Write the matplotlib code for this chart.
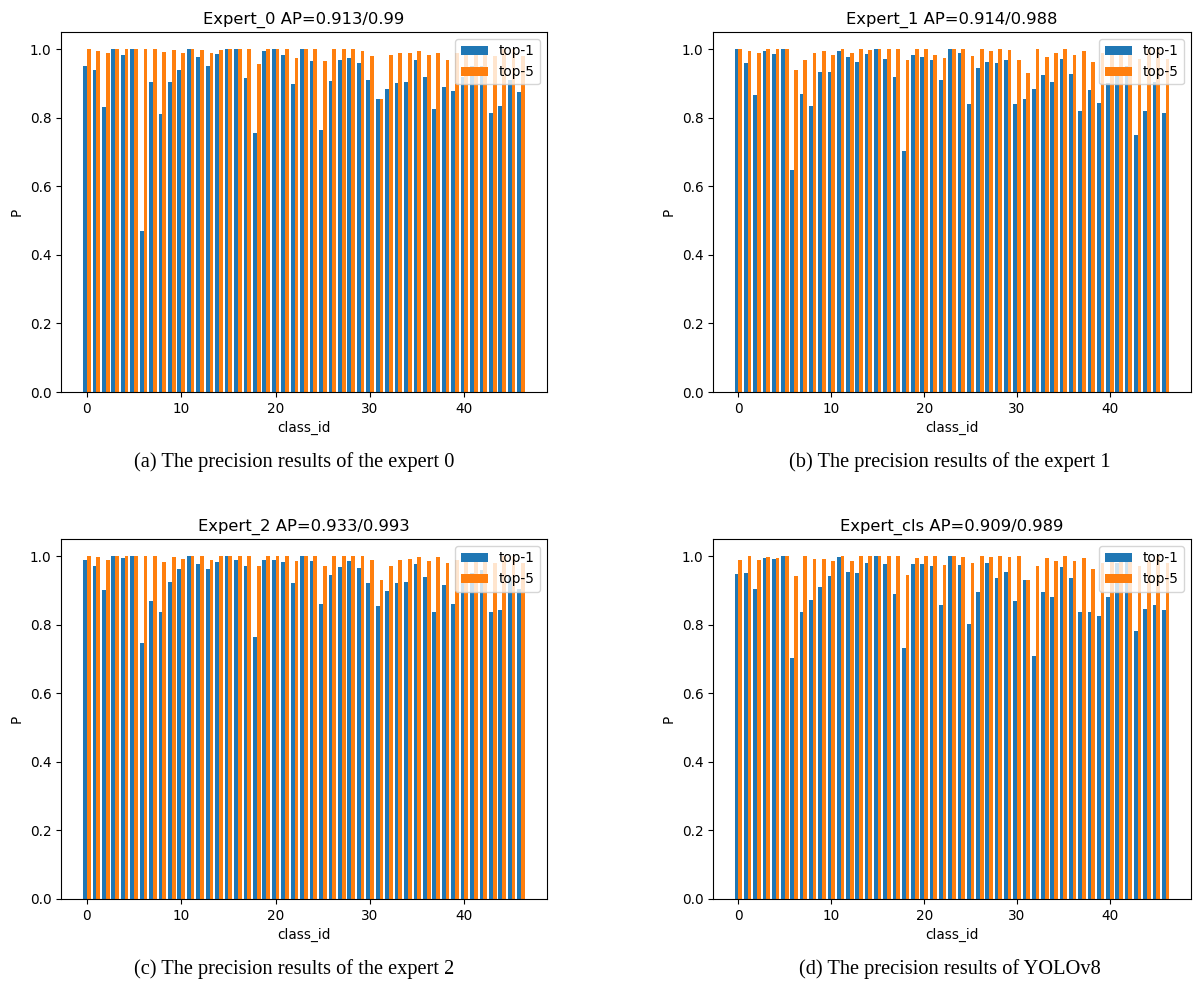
import numpy as np
import matplotlib
matplotlib.use('Agg')
import matplotlib.pyplot as plt


# class ids 0..46
class_ids = np.arange(47)

# expert 0
e0_top1 = [0.95, 0.94, 0.83, 1.0, 0.982, 1.0, 0.47, 0.903, 0.81, 0.903,
           0.94, 1.0, 0.977, 0.95, 0.986, 1.0, 1.0, 0.916, 0.755, 0.994,
           1.0, 0.982, 0.897, 1.0, 0.965, 0.765, 0.907, 0.969, 0.975, 0.959,
           0.909, 0.854, 0.883, 0.90, 0.903, 0.969, 0.92, 0.825, 0.891, 0.878,
           0.92, 0.95, 0.95, 0.815, 0.835, 0.91, 0.876]
e0_top5 = [1.0, 0.994, 0.988, 1.0, 1.0, 1.0, 1.0, 1.0, 0.992, 0.998,
           0.988, 1.0, 0.998, 0.988, 0.998, 1.0, 1.0, 1.0, 0.957, 1.0,
           1.0, 1.0, 0.975, 1.0, 1.0, 0.965, 1.0, 1.0, 1.0, 0.996,
           0.98, 0.854, 0.984, 0.988, 0.988, 0.996, 0.982, 0.99, 0.969, 0.99,
           1.0, 1.0, 0.99, 0.98, 1.0, 1.0, 0.98]

# expert 1
e1_top1 = [1.0, 0.959, 0.866, 0.996, 0.986, 1.0, 0.648, 0.87, 0.833, 0.932,
           0.934, 0.996, 0.977, 0.963, 0.986, 1.0, 0.971, 0.918, 0.702, 0.982,
           0.977, 0.969, 0.909, 1.0, 0.988, 0.839, 0.946, 0.963, 0.959, 0.969,
           0.84, 0.854, 0.883, 0.926, 0.903, 0.971, 0.928, 0.821, 0.881, 0.844,
           0.90, 0.93, 0.95, 0.75, 0.821, 0.905, 0.813]
e1_top5 = [1.0, 0.996, 0.988, 1.0, 1.0, 1.0, 0.94, 0.969, 0.99, 0.994,
           0.984, 1.0, 0.99, 1.0, 0.998, 1.0, 1.0, 1.0, 0.969, 1.0,
           1.0, 0.982, 0.975, 1.0, 1.0, 0.98, 1.0, 0.996, 1.0, 0.998,
           0.969, 0.93, 1.0, 0.977, 0.988, 1.0, 0.982, 0.994, 0.963, 0.99,
           0.99, 1.0, 0.99, 0.97, 1.0, 1.0, 0.97]

# expert 2
e2_top1 = [0.989, 0.972, 0.90, 1.0, 0.995, 1.0, 0.746, 0.869, 0.838, 0.925,
           0.962, 1.0, 0.976, 0.962, 0.983, 1.0, 0.989, 0.972, 0.764, 0.989,
           0.989, 0.983, 0.923, 1.0, 0.985, 0.859, 0.946, 0.968, 0.985, 0.966,
           0.921, 0.855, 0.898, 0.921, 0.925, 0.978, 0.939, 0.836, 0.915, 0.861,
           0.93, 0.95, 0.96, 0.836, 0.844, 0.94, 0.905]
e2_top5 = [1.0, 0.997, 0.989, 1.0, 1.0, 1.0, 1.0, 1.0, 0.983, 0.997,
           0.993, 1.0, 1.0, 0.989, 1.0, 1.0, 1.0, 1.0, 0.97, 1.0,
           1.0, 1.0, 0.985, 1.0, 1.0, 0.972, 1.0, 1.0, 1.0, 1.0,
           0.989, 0.929, 0.972, 0.989, 0.993, 0.997, 0.985, 0.997, 0.979, 0.99,
           1.0, 1.0, 0.99, 0.98, 1.0, 1.0, 0.98]

# yolov8 cls
ecls_top1 = [0.948, 0.951, 0.903, 0.995, 0.991, 1.0, 0.703, 0.838, 0.873, 0.91,
             0.941, 0.997, 0.954, 0.951, 0.98, 1.0, 0.978, 0.89, 0.733, 0.978,
             0.978, 0.97, 0.857, 1.0, 0.974, 0.803, 0.894, 0.98, 0.937, 0.954,
             0.869, 0.929, 0.709, 0.894, 0.882, 0.968, 0.937, 0.838, 0.836, 0.826,
             0.88, 0.98, 0.99, 0.781, 0.845, 0.857, 0.844]
ecls_top5 = [0.989, 1.0, 0.989, 0.997, 0.995, 1.0, 0.941, 1.0, 0.991, 0.991,
             0.985, 1.0, 0.985, 1.0, 1.0, 1.0, 1.0, 1.0, 0.946, 0.995,
             1.0, 1.0, 0.974, 1.0, 0.997, 0.98, 1.0, 0.997, 1.0, 0.997,
             1.0, 0.929, 0.972, 0.995, 0.985, 1.0, 0.985, 0.995, 0.962, 0.98,
             0.99, 1.0, 0.99, 0.97, 0.99, 1.0, 0.98]

titles = ['Expert_0 AP=0.913/0.99', 'Expert_1 AP=0.914/0.988',
          'Expert_2 AP=0.933/0.993', 'Expert_cls AP=0.909/0.989']
captions = ['(a) The precision results of the expert 0',
            '(b) The precision results of the expert 1',
            '(c) The precision results of the expert 2',
            '(d) The precision results of YOLOv8']
panels = [(e0_top1, e0_top5), (e1_top1, e1_top5),
          (e2_top1, e2_top5), (ecls_top1, ecls_top5)]

W, H = 1194, 989
# axes boxes in pixels (left, top, right, bottom)
boxes = [(61, 32, 547, 392), (713, 32, 1191, 392),
         (61, 539, 547, 899), (713, 539, 1191, 899)]
caption_pos = [(294, 462), (950, 462), (294, 969), (950, 969)]

fig = plt.figure(figsize=(W / 100, H / 100), dpi=100)

for i, (top1, top5) in enumerate(panels):
    l, t, r, b = boxes[i]
    ax = fig.add_axes([l / W, 1 - b / H, (r - l) / W, (b - t) / H])
    ax.bar(class_ids - 0.2, top1, width=0.4, label='top-1')
    ax.bar(class_ids + 0.2, top5, width=0.4, label='top-5')
    ax.set_title(titles[i], fontsize=11.8)
    ax.set_xlabel('class_id', fontsize=9.8)
    ax.set_ylabel('P', fontsize=9.8)
    ax.tick_params(labelsize=9.8)
    ax.legend(loc='upper right', fontsize=9.8)

    # caption under each panel
    cx, cy = caption_pos[i]
    fig.text(cx / W, 1 - cy / H, captions[i], ha='center', va='center',
             fontsize=14.7, family='Liberation Serif')

fig.savefig('out.png', dpi=100)
